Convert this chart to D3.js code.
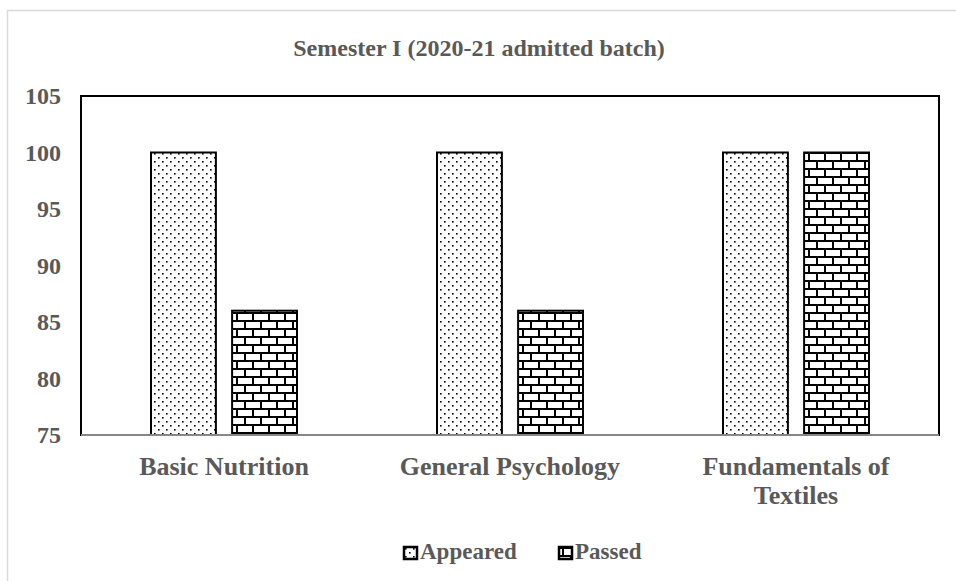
<!DOCTYPE html>
<html lang="en">
<head>
<meta charset="UTF-8">
<title>Semester I</title>
<script src="https://d3js.org/d3.v7.min.js"></script>
<style>
  body { margin: 0; background: #fff; }
  text { font-family: "Liberation Serif", "Times New Roman", serif; font-weight: bold; fill: #595959; }
</style>
</head>
<body>
<svg width="956" height="581"></svg>
<script>
// data
const categories = ["Basic Nutrition", "General Psychology", "Fundamentals of Textiles"];
const seriesNames = ["Appeared", "Passed"];
const appeared = [100, 100, 100];
const passed = [86, 86, 100];
const yTicks = [75, 80, 85, 90, 95, 100, 105];
const title = "Semester I (2020-21 admitted batch)";

const svg = d3.select("svg");
const defs = svg.append("defs");

// dotted pattern
const dots = defs.append("pattern")
    .attr("id", "dots")
    .attr("patternUnits", "userSpaceOnUse")
    .attr("width", 8).attr("height", 8);
dots.append("rect").attr("width", 8).attr("height", 8).attr("fill", "#fff");
dots.append("rect").attr("x", 1).attr("y", 1).attr("width", 1.6).attr("height", 1.6).attr("fill", "#000");
dots.append("rect").attr("x", 5).attr("y", 5).attr("width", 1.6).attr("height", 1.6).attr("fill", "#000");

// brick pattern
const brick = defs.append("pattern")
    .attr("id", "brick")
    .attr("patternUnits", "userSpaceOnUse")
    .attr("width", 16).attr("height", 16);
brick.append("rect").attr("width", 16).attr("height", 16).attr("fill", "#fff");
brick.append("rect").attr("x", 0).attr("y", 0).attr("width", 16).attr("height", 2).attr("fill", "#000");
brick.append("rect").attr("x", 0).attr("y", 8).attr("width", 16).attr("height", 2).attr("fill", "#000");
brick.append("rect").attr("x", 3).attr("y", 0).attr("width", 2).attr("height", 8).attr("fill", "#000");
brick.append("rect").attr("x", 11).attr("y", 8).attr("width", 2).attr("height", 8).attr("fill", "#000");

const fills = { "Appeared": "url(#dots)", "Passed": "url(#brick)" };

// chart frame
svg.append("rect")
    .attr("x", 7.5).attr("y", 10.5)
    .attr("width", 1000).attr("height", 1000)
    .attr("fill", "#fff")
    .attr("stroke", "#d9d9d9")
    .attr("stroke-width", 1.5);

const plotL = 81, plotR = 939, plotT = 96, plotB = 435;

const x0 = d3.scaleBand().domain(categories).range([plotL, plotR]);
const x1 = d3.scaleBand().domain(seriesNames)
    .range([70, x0.bandwidth() - 70])
    .paddingInner(0.2);
const y = d3.scaleLinear().domain([75, 105]).range([plotB, plotT]);

// title
svg.append("text")
    .attr("x", 479).attr("y", 56)
    .attr("text-anchor", "middle")
    .style("font-size", "24px")
    .text(title);

// bars
const rows = categories.map((c, i) => ({ cat: c, vals: [
    { s: "Appeared", v: appeared[i] },
    { s: "Passed", v: passed[i] }
]}));

svg.append("g").selectAll("g")
    .data(rows)
    .join("g")
    .attr("transform", d => `translate(${x0(d.cat)},0)`)
    .selectAll("rect")
    .data(d => d.vals)
    .join("rect")
    .attr("x", d => x1(d.s))
    .attr("y", d => y(d.v))
    .attr("width", x1.bandwidth())
    .attr("height", d => y(75) - y(d.v))
    .attr("fill", d => fills[d.s])
    .attr("stroke", "#000")
    .attr("stroke-width", 2);

// plot border
svg.append("rect")
    .attr("x", plotL).attr("y", plotT)
    .attr("width", plotR - plotL).attr("height", plotB - plotT)
    .attr("fill", "none")
    .attr("stroke", "#000")
    .attr("stroke-width", 2);

svg.append("line")
    .attr("x1", plotL).attr("x2", plotR)
    .attr("y1", plotB).attr("y2", plotB)
    .attr("stroke", "#868686")
    .attr("stroke-width", 2);

// y axis labels
const yAxis = svg.append("g")
    .attr("transform", `translate(61,0)`)
    .call(d3.axisLeft(y).tickValues(yTicks).tickSize(0).tickPadding(0));
yAxis.select(".domain").remove();
yAxis.selectAll("text")
    .attr("fill", "#595959")
    .style("font-size", "24px")
    .style("font-family", "'Liberation Serif', 'Times New Roman', serif")
    .style("font-weight", "bold")
    .attr("dy", "0.33em");

// x labels with wrapping
const xl = svg.append("g").selectAll("text")
    .data(categories)
    .join("text")
    .attr("x", d => x0(d) + x0.bandwidth() / 2)
    .attr("y", 475)
    .attr("text-anchor", "middle")
    .style("font-size", "26px");

xl.each(function(d) {
    const t = d3.select(this);
    const words = d.split(" ");
    let line = [], lines = [];
    const tmp = t.append("tspan");
    words.forEach(w => {
        line.push(w);
        tmp.text(line.join(" "));
        if (tmp.node().getComputedTextLength() > 260 && line.length > 1) {
            line.pop();
            lines.push(line.join(" "));
            line = [w];
        }
    });
    lines.push(line.join(" "));
    tmp.remove();
    lines.forEach((l, i) => {
        t.append("tspan")
            .attr("x", x0(d) + x0.bandwidth() / 2)
            .attr("dy", i === 0 ? 0 : 29)
            .text(l);
    });
});

// legend
const legendX = [404, 559];
const leg = svg.append("g").selectAll("g")
    .data(seriesNames)
    .join("g")
    .attr("transform", (d, i) => `translate(${legendX[i]},547)`);
leg.append("rect")
    .attr("width", 13).attr("height", 12)
    .attr("fill", d => fills[d])
    .attr("stroke", "#000")
    .attr("stroke-width", 2.5);
leg.append("text")
    .attr("x", 16).attr("y", 12)
    .style("font-size", "23px")
    .text(d => d);
</script>
</body>
</html>
